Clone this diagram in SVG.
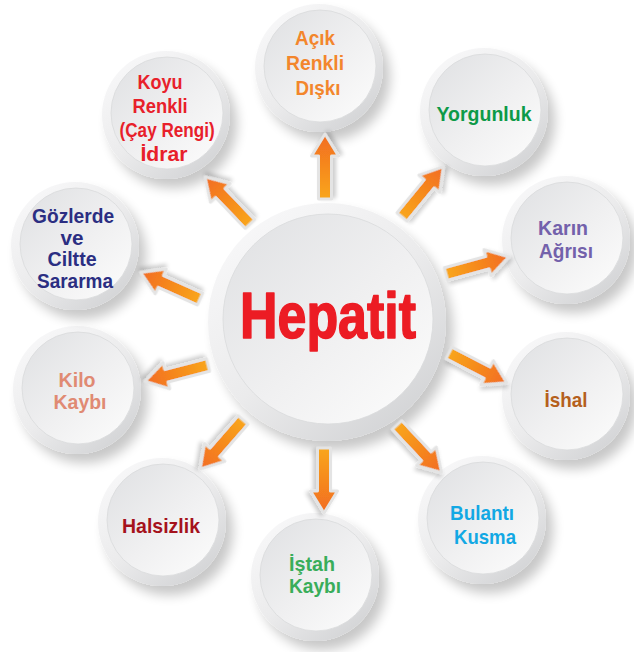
<svg xmlns="http://www.w3.org/2000/svg" xmlns:xlink="http://www.w3.org/1999/xlink" width="634" height="652" viewBox="0 0 634 652">
  <defs>
    <style>
      .lbl { font-family: "Liberation Sans", "DejaVu Sans", Arial, sans-serif; font-weight: bold; font-size: 21px; text-anchor: middle; }
      .ring { fill: url(#ringGrad); filter: url(#shadow); }
      .face { fill: url(#faceGrad); stroke: #d9dadc; stroke-width: 0.8; }
      .arrow { fill: url(#arrowGrad); stroke: #e4e4e4; stroke-width: 3; stroke-linejoin: round; filter: url(#ashadow); }
    </style>
    <linearGradient id="ringGrad" x1="0.15" y1="0.1" x2="0.85" y2="0.95">
      <stop offset="0" stop-color="#f7f7f8"/>
      <stop offset="0.5" stop-color="#ebebec"/>
      <stop offset="1" stop-color="#d2d3d5"/>
    </linearGradient>
    <linearGradient id="faceGrad" x1="0.1" y1="0.1" x2="0.9" y2="0.9">
      <stop offset="0" stop-color="#e2e3e5"/>
      <stop offset="0.55" stop-color="#f0f0f1"/>
      <stop offset="1" stop-color="#fafafa"/>
    </linearGradient>
    <linearGradient id="arrowGrad" x1="0" y1="0" x2="1" y2="0">
      <stop offset="0" stop-color="#f9a61c"/>
      <stop offset="1" stop-color="#f26c21"/>
    </linearGradient>
    <filter id="shadow" x="-30%" y="-30%" width="170%" height="170%">
      <feGaussianBlur in="SourceAlpha" stdDeviation="6"/>
      <feOffset dx="7" dy="9" result="b"/>
      <feComponentTransfer><feFuncA type="linear" slope="0.22"/></feComponentTransfer>
      <feMerge><feMergeNode/><feMergeNode in="SourceGraphic"/></feMerge>
    </filter>
    <filter id="ashadow" x="-30%" y="-60%" width="160%" height="220%">
      <feGaussianBlur in="SourceAlpha" stdDeviation="2"/>
      <feOffset dx="2" dy="3"/>
      <feComponentTransfer><feFuncA type="linear" slope="0.2"/></feComponentTransfer>
      <feMerge><feMergeNode/><feMergeNode in="SourceGraphic"/></feMerge>
    </filter>
    <path id="arr" d="M0,-6.5 H43 V-13.5 L65,0 L43,13.5 V6.5 H0 Z"/>
  </defs>

  <rect width="634" height="652" fill="#ffffff"/>

  <!-- Center -->
  <g id="node-hepatit">
    <circle class="ring" cx="327" cy="322" r="119"/>
    <circle class="face" cx="328" cy="319" r="105"/>
    <text x="328" y="338" font-family="Liberation Sans, DejaVu Sans, Arial, sans-serif" font-weight="bold" font-size="64" fill="#ec1c24" stroke="#ec1c24" stroke-width="1.6" stroke-linejoin="round" text-anchor="middle" textLength="176" lengthAdjust="spacingAndGlyphs">Hepatit</text>
  </g>

  <g id="node-acik">
    <circle class="ring" cx="319" cy="68" r="64"/>
    <circle class="face" cx="320" cy="66" r="56"/>
    <text class="lbl" fill="#f3862c" font-size="22">
      <tspan x="318" y="45" textLength="40" lengthAdjust="spacingAndGlyphs">Açık</tspan>
      <tspan x="318" y="70" textLength="58" lengthAdjust="spacingAndGlyphs">Renkli</tspan>
      <tspan x="318" y="95" textLength="45" lengthAdjust="spacingAndGlyphs">Dışkı</tspan>
    </text>
  </g>

  <g id="node-yorgunluk">
    <circle class="ring" cx="484" cy="112" r="64"/>
    <circle class="face" cx="485" cy="110" r="56"/>
    <text class="lbl" fill="#0d9a48" font-size="23">
      <tspan x="484" y="121" textLength="95" lengthAdjust="spacingAndGlyphs">Yorgunluk</tspan>
    </text>
  </g>

  <g id="node-karin">
    <circle class="ring" cx="566" cy="240" r="64"/>
    <circle class="face" cx="567" cy="238" r="56"/>
    <text class="lbl" fill="#7361ab" font-size="22">
      <tspan x="566" y="235" textLength="50" lengthAdjust="spacingAndGlyphs">Karın</tspan>
      <tspan x="566" y="258" textLength="54" lengthAdjust="spacingAndGlyphs">Ağrısı</tspan>
    </text>
  </g>

  <g id="node-ishal">
    <circle class="ring" cx="566" cy="396" r="64"/>
    <circle class="face" cx="567" cy="394" r="56"/>
    <text class="lbl" fill="#b5601c" font-size="22">
      <tspan x="566" y="407" textLength="43" lengthAdjust="spacingAndGlyphs">İshal</tspan>
    </text>
  </g>

  <g id="node-bulanti">
    <circle class="ring" cx="482" cy="520" r="64"/>
    <circle class="face" cx="483" cy="518" r="56"/>
    <text class="lbl" fill="#12a8e4" font-size="22">
      <tspan x="485" y="520" textLength="64" lengthAdjust="spacingAndGlyphs">Bulantı</tspan>
      <tspan x="485" y="544" textLength="62" lengthAdjust="spacingAndGlyphs">Kusma</tspan>
    </text>
  </g>

  <g id="node-istah">
    <circle class="ring" cx="315" cy="577" r="64"/>
    <circle class="face" cx="316" cy="575" r="56"/>
    <text class="lbl" fill="#39ad5a">
      <tspan x="315" y="571" textLength="46" lengthAdjust="spacingAndGlyphs">İştah</tspan>
      <tspan x="315" y="593" textLength="52" lengthAdjust="spacingAndGlyphs">Kaybı</tspan>
    </text>
  </g>

  <g id="node-halsizlik">
    <circle class="ring" cx="162" cy="522" r="64"/>
    <circle class="face" cx="163" cy="520" r="56"/>
    <text class="lbl" fill="#a5121c" font-size="22">
      <tspan x="161" y="533" textLength="78" lengthAdjust="spacingAndGlyphs">Halsizlik</tspan>
    </text>
  </g>

  <g id="node-kilo">
    <circle class="ring" cx="77" cy="390" r="64"/>
    <circle class="face" cx="78" cy="388" r="56"/>
    <text class="lbl" fill="#e08a73">
      <tspan x="80" y="387" textLength="37" lengthAdjust="spacingAndGlyphs">Kilo</tspan>
      <tspan x="80" y="409" textLength="53" lengthAdjust="spacingAndGlyphs">Kaybı</tspan>
    </text>
  </g>

  <g id="node-gozlerde">
    <circle class="ring" cx="75" cy="246" r="64"/>
    <circle class="face" cx="76" cy="244" r="56"/>
    <text class="lbl" fill="#2b2e82">
      <tspan x="76" y="223" textLength="82" lengthAdjust="spacingAndGlyphs">Gözlerde</tspan>
      <tspan x="75" y="244.5" textLength="23" lengthAdjust="spacingAndGlyphs">ve</tspan>
      <tspan x="75" y="266" textLength="49" lengthAdjust="spacingAndGlyphs">Ciltte</tspan>
      <tspan x="75" y="287.5" textLength="76" lengthAdjust="spacingAndGlyphs">Sararma</tspan>
    </text>
  </g>

  <g id="node-koyu">
    <circle class="ring" cx="166" cy="115" r="64"/>
    <circle class="face" cx="167" cy="113" r="56"/>
    <text class="lbl" fill="#e8202a" font-size="22">
      <tspan x="163" y="89" textLength="45" lengthAdjust="spacingAndGlyphs">Koyu</tspan>
      <tspan x="163" y="113" textLength="55" lengthAdjust="spacingAndGlyphs">Renkli</tspan>
      <tspan x="170" y="137" textLength="95" lengthAdjust="spacingAndGlyphs">(Çay Rengi)</tspan>
      <tspan x="164" y="161" textLength="47" lengthAdjust="spacingAndGlyphs">İdrar</tspan>
    </text>
  </g>

  <!-- Connectors -->
  <g id="connectors">
    <use class="arrow" xlink:href="#arr" href="#arr" transform="translate(325,199) rotate(-90)"/>
    <use class="arrow" xlink:href="#arr" href="#arr" transform="translate(402,217) rotate(-50.6)"/>
    <use class="arrow" xlink:href="#arr" href="#arr" transform="translate(446,274) rotate(-15.3)"/>
    <use class="arrow" xlink:href="#arr" href="#arr" transform="translate(449,353) rotate(27.3)"/>
    <use class="arrow" xlink:href="#arr" href="#arr" transform="translate(397,425) rotate(46.8)"/>
    <use class="arrow" xlink:href="#arr" href="#arr" transform="translate(324,448) rotate(90)"/>
    <use class="arrow" xlink:href="#arr" href="#arr" transform="translate(243,420) rotate(131.1)"/>
    <use class="arrow" xlink:href="#arr" href="#arr" transform="translate(208,365) rotate(165.5)"/>
    <use class="arrow" xlink:href="#arr" href="#arr" transform="translate(200,299) rotate(-155.9)"/>
    <use class="arrow" xlink:href="#arr" href="#arr" transform="translate(250,224) rotate(-133.7)"/>
  </g>
</svg>
